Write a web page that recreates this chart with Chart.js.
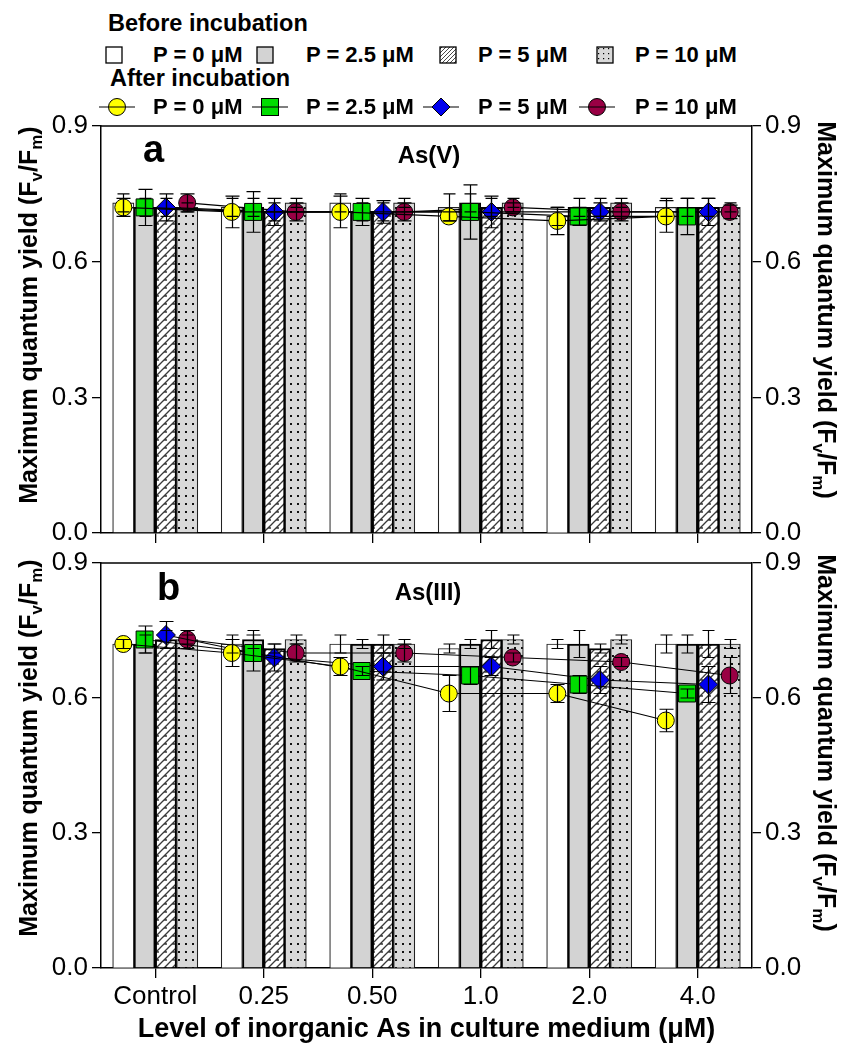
<!DOCTYPE html>
<html>
<head>
<meta charset="utf-8">
<title>Maximum quantum yield</title>
<script src="https://cdn.jsdelivr.net/npm/chart.js@4.4.1/dist/chart.umd.min.js"></script>
<style>
  html,body{margin:0;padding:0;background:#fff;}
  body{width:845px;height:1046px;position:relative;overflow:hidden;font-family:"Liberation Sans",Arial,Helvetica,sans-serif;color:#000;}
  canvas{position:absolute;left:0;}
  #panelA{top:100px;}
  #panelB{top:540px;}
  .t{position:absolute;white-space:nowrap;font-weight:bold;line-height:1;}
  .lgh{font-size:23.5px;}
  .lgt{font-size:22px;}
  .ico{position:absolute;overflow:visible;}
  .ytitle{font-size:25px;}
  .ytitle sub{font-size:17px;vertical-align:-5px;line-height:0;}
  .letter{font-size:38px;}
  .species{font-size:24px;transform:translateX(-50%);}
</style>
</head>
<body>
<svg width="0" height="0" style="position:absolute">
  <defs>
    <pattern id="hatchP" width="4" height="4" patternUnits="userSpaceOnUse">
      <rect width="4" height="4" fill="#fff"/>
      <path d="M0,4 L4,0 M-1,1 L1,-1 M3,5 L5,3" stroke="#333" stroke-width="0.9"/>
    </pattern>
    <pattern id="dotP" width="5" height="5" patternUnits="userSpaceOnUse">
      <rect width="5" height="5" fill="#d9d9d9"/>
      <rect x="2" y="2" width="1.2" height="1.2" fill="#000"/>
    </pattern>
  </defs>
</svg>

<canvas id="panelA" width="845" height="460"></canvas>
<canvas id="panelB" width="845" height="506"></canvas>

<!-- legend: before incubation (bars) -->
<div class="t lgh" style="left:108px;top:12px">Before incubation</div>
<svg class="ico" style="left:105px;top:46px" width="19" height="18"><rect x="1" y="1" width="16" height="16" fill="#fff" stroke="#000" stroke-width="1.3"/></svg>
<div class="t lgt" style="left:153px;top:44px">P = 0 μM</div>
<svg class="ico" style="left:256px;top:46px" width="19" height="18"><rect x="1" y="1" width="16" height="16" fill="#d3d3d3" stroke="#000" stroke-width="1.3"/></svg>
<div class="t lgt" style="left:306px;top:44px">P = 2.5 μM</div>
<svg class="ico" style="left:439px;top:46px" width="19" height="18"><rect x="1" y="1" width="16" height="16" fill="url(#hatchP)" stroke="#000" stroke-width="1.3"/></svg>
<div class="t lgt" style="left:478px;top:44px">P = 5 μM</div>
<svg class="ico" style="left:596px;top:46px" width="19" height="18"><rect x="1" y="1" width="16" height="16" fill="url(#dotP)" stroke="#000" stroke-width="1.3"/></svg>
<div class="t lgt" style="left:635px;top:44px">P = 10 μM</div>

<!-- legend: after incubation (lines with markers) -->
<div class="t lgh" style="left:110px;top:67px">After incubation</div>
<svg class="ico" style="left:98px;top:96px" width="38" height="22"><line x1="1" y1="11" x2="37" y2="11" stroke="#000" stroke-width="1.2"/><circle cx="19" cy="11" r="8.5" fill="#ffff00" stroke="#000" stroke-width="1"/><line x1="11" y1="11" x2="27" y2="11" stroke="#000" stroke-width="1"/></svg>
<div class="t lgt" style="left:153px;top:96px">P = 0 μM</div>
<svg class="ico" style="left:251px;top:96px" width="38" height="22"><line x1="1" y1="11" x2="37" y2="11" stroke="#000" stroke-width="1.2"/><rect x="10.5" y="2.5" width="17" height="17" fill="#00dd00" stroke="#000" stroke-width="1"/><line x1="10" y1="11" x2="28" y2="11" stroke="#000" stroke-width="1"/></svg>
<div class="t lgt" style="left:306px;top:96px">P = 2.5 μM</div>
<svg class="ico" style="left:422px;top:96px" width="38" height="22"><line x1="1" y1="11" x2="37" y2="11" stroke="#000" stroke-width="1.2"/><polygon points="19,2 28,11 19,20 10,11" fill="#0000ee" stroke="#000" stroke-width="1"/></svg>
<div class="t lgt" style="left:478px;top:96px">P = 5 μM</div>
<svg class="ico" style="left:578px;top:96px" width="38" height="22"><line x1="1" y1="11" x2="37" y2="11" stroke="#000" stroke-width="1.2"/><circle cx="19" cy="11" r="8.5" fill="#990044" stroke="#000" stroke-width="1"/><line x1="11" y1="11" x2="27" y2="11" stroke="#000" stroke-width="1"/></svg>
<div class="t lgt" style="left:635px;top:96px">P = 10 μM</div>

<!-- panel captions -->
<div class="t letter" style="left:143px;top:130px">a</div>
<div class="t species" style="left:429px;top:143px">As(V)</div>
<div class="t letter" style="left:157px;top:568px">b</div>
<div class="t species" style="left:428px;top:580px">As(III)</div>

<!-- y-axis titles -->
<div class="t ytitle" style="left:28px;top:315px;transform:translate(-50%,-50%) rotate(-90deg)">Maximum quantum yield (F<sub>v</sub>/F<sub>m</sub>)</div>
<div class="t ytitle" style="left:28px;top:748px;transform:translate(-50%,-50%) rotate(-90deg)">Maximum quantum yield (F<sub>v</sub>/F<sub>m</sub>)</div>
<div class="t ytitle" style="left:826px;top:310px;transform:translate(-50%,-50%) rotate(90deg)">Maximum quantum yield (F<sub>v</sub>/F<sub>m</sub>)</div>
<div class="t ytitle" style="left:826px;top:743px;transform:translate(-50%,-50%) rotate(90deg)">Maximum quantum yield (F<sub>v</sub>/F<sub>m</sub>)</div>

<script>
// ---- data ----
const categories = ['Control', '0.25', '0.50', '1.0', '2.0', '4.0'];
const yTicks = [0, 0.3, 0.6, 0.9];
const pLevels = ['P = 0 μM', 'P = 2.5 μM', 'P = 5 μM', 'P = 10 μM'];
const xTitle = 'Level of inorganic As in culture medium (μM)';

// As(V): before incubation (bars) and their SD
const asVBeforeP0   = [0.73, 0.72, 0.73, 0.72, 0.70, 0.72];
const asVBeforeP25  = [0.72, 0.72, 0.71, 0.73, 0.72, 0.72];
const asVBeforeP5   = [0.72, 0.71, 0.71, 0.72, 0.72, 0.72];
const asVBeforeP10  = [0.72, 0.73, 0.73, 0.73, 0.73, 0.72];
const asVBeforeErrP0  = [0.02, 0.02, 0.02, 0.03, 0.02, 0.02];
const asVBeforeErrP25 = [0.02, 0.02, 0.02, 0.02, 0.02, 0.02];
const asVBeforeErrP5  = [0.02, 0.02, 0.02, 0.02, 0.02, 0.02];
const asVBeforeErrP10 = [0.01, 0.01, 0.01, 0.01, 0.01, 0.01];

// As(V): after incubation (markers) and their SD
const asVAfterP0   = [0.72, 0.71, 0.71, 0.70, 0.69, 0.70];
const asVAfterP25  = [0.72, 0.71, 0.71, 0.71, 0.70, 0.70];
const asVAfterP5   = [0.72, 0.71, 0.71, 0.71, 0.71, 0.71];
const asVAfterP10  = [0.73, 0.71, 0.71, 0.72, 0.71, 0.71];
const asVAfterErrP0  = [0.02, 0.035, 0.035, 0.01, 0.03, 0.035];
const asVAfterErrP25 = [0.04, 0.045, 0.03, 0.06, 0.02, 0.04];
const asVAfterErrP5  = [0.03, 0.03, 0.025, 0.035, 0.02, 0.03];
const asVAfterErrP10 = [0.02, 0.02, 0.02, 0.01, 0.02, 0.015];

// As(III): before incubation (bars) and their SD
const asIIIBeforeP0  = [0.72, 0.72, 0.72, 0.71, 0.72, 0.72];
const asIIIBeforeP25 = [0.72, 0.73, 0.72, 0.72, 0.72, 0.72];
const asIIIBeforeP5  = [0.73, 0.71, 0.72, 0.73, 0.71, 0.72];
const asIIIBeforeP10 = [0.73, 0.73, 0.72, 0.73, 0.73, 0.72];
const asIIIBeforeErrP0  = [0.01, 0.02, 0.02, 0.01, 0.01, 0.02];
const asIIIBeforeErrP25 = [0.02, 0.02, 0.01, 0.01, 0.03, 0.02];
const asIIIBeforeErrP5  = [0.02, 0.01, 0.02, 0.02, 0.01, 0.03];
const asIIIBeforeErrP10 = [0.01, 0.01, 0.01, 0.01, 0.01, 0.01];

// As(III): after incubation (markers) and their SD
const asIIIAfterP0  = [0.72, 0.70, 0.67, 0.61, 0.61, 0.55];
const asIIIAfterP25 = [0.73, 0.70, 0.66, 0.65, 0.63, 0.61];
const asIIIAfterP5  = [0.74, 0.69, 0.67, 0.67, 0.64, 0.63];
const asIIIAfterP10 = [0.73, 0.70, 0.70, 0.69, 0.68, 0.65];
const asIIIAfterErrP0  = [0.01, 0.03, 0.02, 0.04, 0.02, 0.025];
const asIIIAfterErrP25 = [0.03, 0.04, 0.01, 0.02, 0.02, 0.01];
const asIIIAfterErrP5  = [0.03, 0.03, 0.03, 0.02, 0.03, 0.04];
const asIIIAfterErrP10 = [0.02, 0.02, 0.02, 0.01, 0.01, 0.04];

// ---- styling ----
const FONT = '"Liberation Sans", Arial, Helvetica, sans-serif';
const GROUP_SHARE = 0.785;       // share of each category slot taken by its four bars
const GROUP = 4;
// position of bar / marker k inside a category slot (in category units)
const slotOffset = k => (k - (GROUP - 1) / 2) * GROUP_SHARE / GROUP;
const place = (vals, k) => vals.map((v, i) => ({ x: i + slotOffset(k), y: v }));

const markers = [
  { style: 'circle',  r: 8.5, color: '#ffff00' },
  { style: 'rect',    r: 12,  color: '#00dd00' },
  { style: 'rectRot', r: 9.5, color: '#0000ee' },
  { style: 'circle',  r: 8.5, color: '#990044' }
];

function hatchPattern(ctx) {
  const c = document.createElement('canvas');
  c.width = 8; c.height = 8;
  const g = c.getContext('2d');
  g.fillStyle = '#fff'; g.fillRect(0, 0, 8, 8);
  g.strokeStyle = '#3a3a3a'; g.lineWidth = 1.3;
  g.beginPath();
  g.moveTo(0, 8); g.lineTo(8, 0);
  g.moveTo(-2, 2); g.lineTo(2, -2);
  g.moveTo(6, 10); g.lineTo(10, 6);
  g.moveTo(4, 4); g.lineTo(7, 4);
  g.stroke();
  return ctx.createPattern(c, 'repeat');
}
function dotPattern(ctx) {
  const c = document.createElement('canvas');
  c.width = 7; c.height = 8;
  const g = c.getContext('2d');
  g.fillStyle = '#d9d9d9'; g.fillRect(0, 0, 7, 8);
  g.fillStyle = '#111'; g.fillRect(3, 3, 2, 2);
  return ctx.createPattern(c, 'repeat');
}

// SD whiskers for bars and markers
const errorBars = {
  id: 'errorBars',
  afterDatasetsDraw(chart) {
    const ctx = chart.ctx, ys = chart.scales.y;
    ctx.save();
    ctx.strokeStyle = '#000';
    ctx.lineWidth = 1.2;
    chart.data.datasets.forEach((ds, i) => {
      if (!ds.errors) return;
      const meta = chart.getDatasetMeta(i);
      const cap = ds.type === 'line' ? 7 : 6;
      meta.data.forEach((el, j) => {
        const v = ds.data[j].y;
        const e = ds.errors[j];
        const x = Math.round(el.x) + 0.5;
        const t = ys.getPixelForValue(v + e), b = ys.getPixelForValue(v - e);
        ctx.beginPath();
        ctx.moveTo(x, t); ctx.lineTo(x, b);
        ctx.moveTo(x - cap, t); ctx.lineTo(x + cap, t);
        ctx.moveTo(x - cap, b); ctx.lineTo(x + cap, b);
        ctx.stroke();
      });
    });
    ctx.restore();
  }
};

// closes the plot box along its top edge
const frameTop = {
  id: 'frameTop',
  afterDraw(chart) {
    const { ctx, chartArea: a } = chart;
    ctx.save();
    ctx.strokeStyle = '#000';
    ctx.lineWidth = 1.5;
    ctx.beginPath();
    ctx.moveTo(a.left, a.top); ctx.lineTo(a.right, a.top);
    ctx.stroke();
    ctx.restore();
  }
};

function yAxis(position, width) {
  return {
    type: 'linear', position, min: 0, max: 0.9,
    afterBuildTicks(s) { s.ticks = yTicks.map(v => ({ value: v })); },
    afterFit(s) { s.width = width; },
    ticks: { callback: v => Number(v).toFixed(1), font: { family: FONT, size: 26 }, color: '#000', padding: 4 },
    grid: { display: true, drawOnChartArea: false, drawTicks: true, tickLength: 9, color: '#000', lineWidth: 1.3 },
    border: { display: true, color: '#000', width: 1.5 }
  };
}

function panel(id, before, beforeErr, after, afterErr, cfg) {
  const ctx = document.getElementById(id).getContext('2d');
  const barStyle = [
    { bg: '#ffffff',         border: '#222', bw: 1.2 },
    { bg: '#d3d3d3',         border: '#000', bw: 2 },
    { bg: hatchPattern(ctx), border: '#000', bw: 2 },
    { bg: dotPattern(ctx),   border: '#222', bw: 1.2 }
  ];
  const datasets = [];
  before.forEach((vals, k) => datasets.push({
    type: 'bar', label: 'Before incubation, ' + pLevels[k],
    data: place(vals, k), errors: beforeErr[k],
    backgroundColor: barStyle[k].bg, borderColor: barStyle[k].border, borderWidth: barStyle[k].bw,
    borderSkipped: 'bottom', grouped: false, categoryPercentage: 1, barPercentage: 1,
    xAxisID: 'x', yAxisID: 'y', order: 2
  }));
  after.forEach((vals, k) => datasets.push({
    type: 'line', label: 'After incubation, ' + pLevels[k],
    data: place(vals, k), errors: afterErr[k],
    xAxisID: 'x', yAxisID: 'y', order: 1,
    borderColor: '#000', borderWidth: 1.2, fill: false, tension: 0,
    pointStyle: markers[k].style, pointRadius: markers[k].r,
    pointBackgroundColor: markers[k].color, pointBorderColor: '#000', pointBorderWidth: 1
  }));

  new Chart(ctx, {
    type: 'bar',
    data: { labels: categories, datasets },
    options: {
      responsive: false, maintainAspectRatio: false, animation: false, devicePixelRatio: 1,
      layout: { padding: { top: cfg.padTop, left: 0, right: 0, bottom: 0 } },
      plugins: { legend: { display: false }, tooltip: { enabled: false } },
      scales: {
        x: {
          type: 'linear', position: 'bottom', offset: false,
          min: -0.5, max: categories.length - 0.5,
          afterBuildTicks(s) { s.ticks = categories.map((c, i) => ({ value: i })); },
          afterFit(s) { s.height = cfg.xHeight; },
          grid: { display: true, drawOnChartArea: false, drawTicks: true, tickLength: 10, color: '#000', lineWidth: 1.3, offset: false },
          border: { display: true, color: '#000', width: 1.5 },
          ticks: { display: cfg.showX, autoSkip: false, maxRotation: 0, callback: v => categories[Math.round(v)],
                   font: { family: FONT, size: 26 }, color: '#000', padding: 3 },
          title: { display: cfg.showX, text: xTitle, color: '#000', font: { family: FONT, size: 27, weight: 'bold' }, padding: { top: 0, bottom: 0 } }
        },
        y: yAxis('left', 101),
        y2: yAxis('right', 93)
      }
    },
    plugins: [errorBars, frameTop]
  });
}

panel('panelA',
  [asVBeforeP0, asVBeforeP25, asVBeforeP5, asVBeforeP10],
  [asVBeforeErrP0, asVBeforeErrP25, asVBeforeErrP5, asVBeforeErrP10],
  [asVAfterP0, asVAfterP25, asVAfterP5, asVAfterP10],
  [asVAfterErrP0, asVAfterErrP25, asVAfterErrP5, asVAfterErrP10],
  { padTop: 26, xHeight: 27, showX: false });

panel('panelB',
  [asIIIBeforeP0, asIIIBeforeP25, asIIIBeforeP5, asIIIBeforeP10],
  [asIIIBeforeErrP0, asIIIBeforeErrP25, asIIIBeforeErrP5, asIIIBeforeErrP10],
  [asIIIAfterP0, asIIIAfterP25, asIIIAfterP5, asIIIAfterP10],
  [asIIIAfterErrP0, asIIIAfterErrP25, asIIIAfterErrP5, asIIIAfterErrP10],
  { padTop: 23, xHeight: 78, showX: true });
</script>
</body>
</html>
